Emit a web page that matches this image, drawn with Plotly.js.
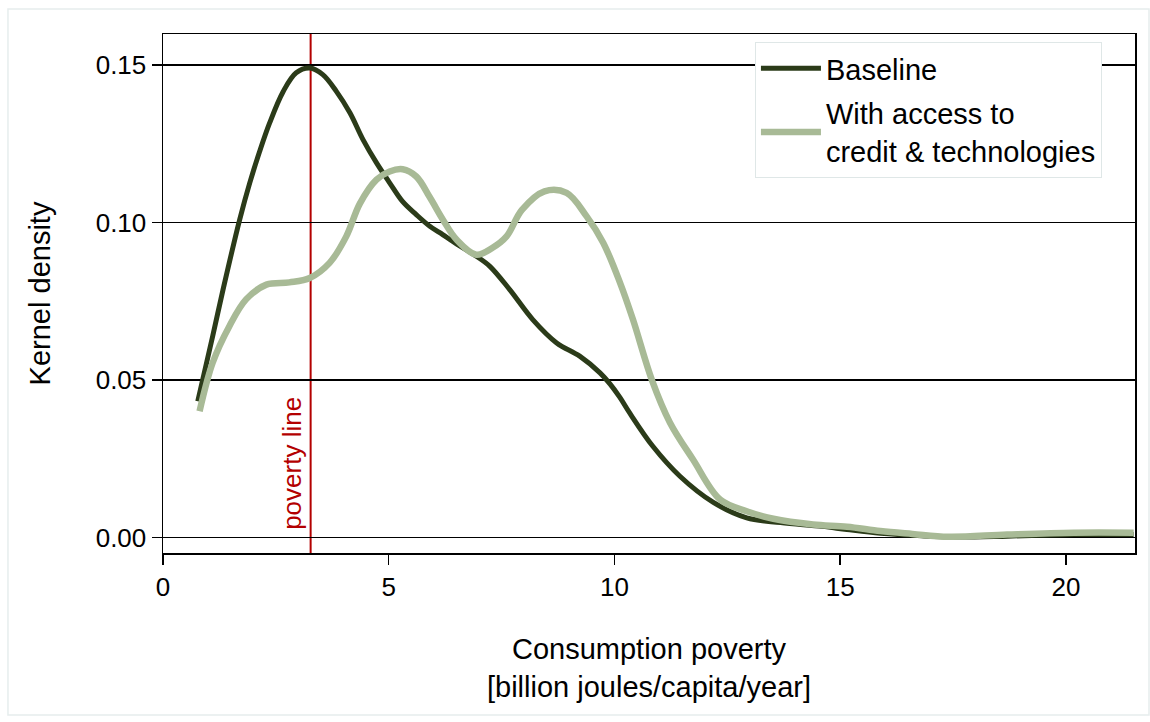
<!DOCTYPE html>
<html>
<head>
<meta charset="utf-8">
<script src="https://cdn.plot.ly/plotly-3.0.1.min.js"></script>
<style>
  html, body { margin: 0; padding: 0; background: #ffffff; }
  #chart { width: 1150px; height: 722px; }
</style>
</head>
<body>
<div id="chart"></div>
<script>
// ---- data ----
const baselineX = [0.77, 1.1, 1.33, 1.7, 1.92, 2.14, 2.36, 2.66, 2.95, 3.25, 3.54, 3.84, 4.14, 4.43, 4.73, 5.02, 5.31, 5.61, 5.91, 6.13, 6.5, 6.94, 7.24, 7.68, 8.19, 8.72, 9.23, 9.68, 9.9, 10.12, 10.34, 10.85, 11.45, 12.19, 12.93, 13.68, 14.6, 15.15, 15.89, 16.8, 17.6, 18.7, 19.5, 20.2, 21.5];
const baselineY = [0.0433, 0.0639, 0.0787, 0.101, 0.1125, 0.1225, 0.1315, 0.1415, 0.1475, 0.149, 0.1469, 0.1416, 0.1348, 0.1263, 0.1189, 0.1126, 0.1066, 0.1025, 0.0988, 0.0968, 0.0932, 0.0893, 0.0861, 0.0787, 0.0692, 0.0618, 0.0576, 0.0523, 0.0488, 0.0445, 0.0395, 0.029, 0.0195, 0.0112, 0.0063, 0.0048, 0.0036, 0.0026, 0.0014, 0.0006, 0.0002, 0.0005, 0.0008, 0.001, 0.001];

const accessX = [0.81, 1.1, 1.47, 1.84, 2.29, 2.8, 3.25, 3.69, 4.06, 4.36, 4.73, 5.02, 5.31, 5.61, 5.91, 6.2, 6.5, 6.94, 7.3, 7.61, 7.95, 8.45, 8.94, 9.38, 9.75, 10.12, 10.41, 10.83, 11.23, 11.74, 12.34, 12.93, 13.52, 14.4, 15.15, 15.89, 16.6, 17.4, 18.7, 20.17, 21.5];
const accessY = [0.0401, 0.0555, 0.0671, 0.0756, 0.0803, 0.081, 0.0824, 0.0872, 0.0956, 0.106, 0.1136, 0.1162, 0.1169, 0.1146, 0.108, 0.1009, 0.0946, 0.0898, 0.092, 0.0956, 0.104, 0.1099, 0.1094, 0.102, 0.0936, 0.081, 0.0692, 0.050, 0.0365, 0.0248, 0.0121, 0.0084, 0.006, 0.0042, 0.0035, 0.0021, 0.0012, 0.0003, 0.001, 0.0016, 0.0016];

const seriesNames = ["Baseline", "With access to<br>credit & technologies"];
const povertyLine = 3.27;
const povertyLabel = "poverty line";
const xTickVals = [0, 5, 10, 15, 20];
const yTickVals = [0.00, 0.05, 0.10, 0.15];
const xTitle = "Consumption poverty<br>[billion joules/capita/year]";
const yTitle = "Kernel density";

// ---- styles ----
const FONT = "Liberation Sans, Arial, Helvetica, sans-serif";
const DARK = "#2b3b19";
const LIGHT = "#a8ba96";
const RED = "#b30000";

const traces = [
  {
    x: baselineX, y: baselineY, name: seriesNames[0], legendgroup: "a",
    type: "scatter", mode: "lines",
    line: { color: DARK, width: 5, shape: "spline", smoothing: 1 }
  },
  {
    x: accessX, y: accessY, name: seriesNames[1], legendgroup: "b",
    type: "scatter", mode: "lines",
    line: { color: LIGHT, width: 6.5, shape: "spline", smoothing: 1 }
  }
];

const layout = {
  width: 1150, height: 722,
  margin: { l: 163, r: 15, t: 34, b: 169 },
  paper_bgcolor: "#ffffff",
  plot_bgcolor: "#ffffff",
  font: { family: FONT, color: "#000000", size: 26 },
  showlegend: true,
  xaxis: {
    range: [0, 21.53],
    tickvals: xTickVals,
    ticktext: xTickVals.map(String),
    ticks: "outside", ticklen: 10, tickwidth: 1.5, tickcolor: "#000",
    showgrid: false, zeroline: false,
    showline: true, mirror: true, linecolor: "#000", linewidth: 1.5,
    tickfont: { family: FONT, size: 26, color: "#000" },
    title: { text: xTitle, font: { family: FONT, size: 29, color: "#000" }, standoff: 38 }
  },
  yaxis: {
    range: [-0.00485, 0.1598],
    tickvals: yTickVals,
    tickformat: ".2f",
    ticks: "outside", ticklen: 10, tickwidth: 1.5, tickcolor: "#000",
    showgrid: true, gridcolor: "#000", gridwidth: 1.5,
    zeroline: false,
    showline: true, mirror: true, linecolor: "#000", linewidth: 1.5,
    tickfont: { family: FONT, size: 26, color: "#000" },
    title: { text: yTitle, font: { family: FONT, size: 29, color: "#000" }, standoff: 36 }
  },
  legend: {
    x: 0.609, y: 0.9846, xanchor: "left", yanchor: "top",
    bgcolor: "#ffffff", bordercolor: "#dfe7e7", borderwidth: 1,
    font: { family: FONT, size: 29, color: "#000" },
    itemwidth: 60, tracegroupgap: 4
  },
  shapes: [
    {
      type: "line", xref: "x", yref: "paper",
      x0: povertyLine, x1: povertyLine, y0: 0, y1: 1,
      line: { color: RED, width: 2 }, layer: "below"
    },
    {
      type: "rect", xref: "paper", yref: "paper",
      x0: -0.1595, x1: 1.0144, y0: -0.312, y1: 1.0482,
      line: { color: "#e6eded", width: 1.5 }, fillcolor: "rgba(0,0,0,0)", layer: "below"
    }
  ],
  annotations: [
    {
      x: povertyLine, y: 0, xref: "x", yref: "y",
      text: povertyLabel, showarrow: false, textangle: -90,
      xanchor: "right", yanchor: "bottom", xshift: -1, yshift: 6,
      font: { family: FONT, size: 26, color: RED }
    }
  ]
};

Plotly.newPlot("chart", traces, layout, { displayModeBar: false, staticPlot: true });
</script>
</body>
</html>
